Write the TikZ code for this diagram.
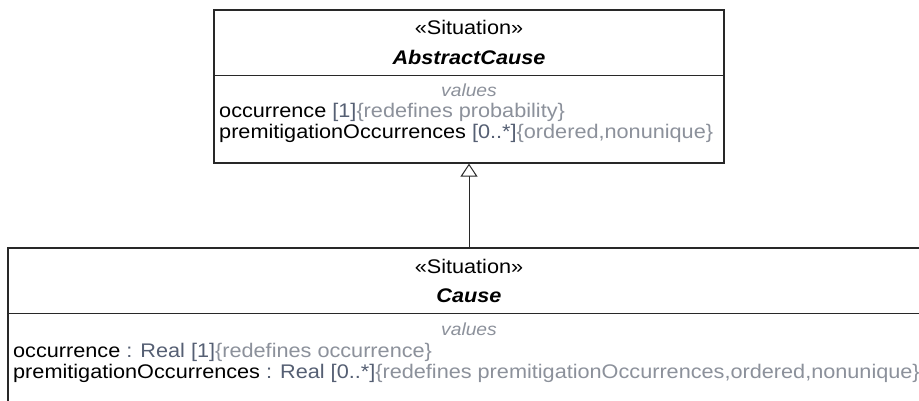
\documentclass[tikz,border=0pt]{standalone}
\usepackage{fontspec}
\setmainfont{Liberation Sans}[FakeStretch=1.1]
\usetikzlibrary{arrows.meta}

\definecolor{umlline}{RGB}{40,40,40}
\definecolor{typegray}{RGB}{85,95,115}
\definecolor{constrgray}{RGB}{140,145,155}

\tikzset{
  classbox/.style={draw=umlline, line width=1.3pt, fill=white, inner sep=0pt},
  classline/.style={draw=umlline, line width=1.3pt},
  txt/.style={inner sep=0pt, font=\fontsize{19.7}{20}\selectfont, text=black},
  classname/.style={txt, font=\fontsize{19.7}{20}\selectfont\bfseries\itshape},
  comptitle/.style={txt, text=constrgray, font=\fontsize{17.5}{18}\selectfont\itshape},
  generalization/.style={draw=umlline, line width=1pt,
    -{Triangle[open, length=13pt, width=17pt, fill=white]}}
}
\newcommand{\typ}[1]{\textcolor{typegray}{#1}}
\newcommand{\cons}[1]{\textcolor{constrgray}{#1}}

\begin{document}
\begin{tikzpicture}[x=1pt, y=-1pt]
  \useasboundingbox (0,0) rectangle (919,400);
  \clip (0,0) rectangle (919,400);

  % AbstractCause
  \node[classbox, minimum width=510pt, minimum height=153pt] (abstract) at (469,86.5) {};
  \draw[classline] ([yshift=-66pt]abstract.north west) -- ([yshift=-66pt]abstract.north east);
  \node[txt, anchor=base] (abstractst) at (469,34) {«Situation»};
  \node[classname, anchor=base] (abstractname) at (469,64) {AbstractCause};
  \node[comptitle, anchor=base] (abstractvals) at (469,96) {values};
  \node[txt, anchor=base west] (abstractocc) at (219,117)
    {occurrence \typ{[1]}\cons{\{redefines probability\}}};
  \node[txt, anchor=base west] (abstractpre) at (219,138)
    {premitigationOccurrences \typ{[0..*]}\cons{\{ordered,nonunique\}}};

  % Cause
  \node[classbox, minimum width=922pt, minimum height=182pt] (cause) at (469,339) {};
  \draw[classline] ([yshift=-66pt]cause.north west) -- ([yshift=-66pt]cause.north east);
  \node[txt, anchor=base] (causest) at (469,273) {«Situation»};
  \node[classname, anchor=base] (causename) at (469,302) {Cause};
  \node[comptitle, anchor=base] (causevals) at (469,335) {values};
  \node[txt, anchor=base west] (causeocc) at (13,357)
    {occurrence \typ{: Real [1]}\cons{\{redefines occurrence\}}};
  \node[txt, anchor=base west] (causepre) at (13,378)
    {premitigationOccurrences \typ{: Real [0..*]}\cons{\{redefines premitigationOccurrences,ordered,nonunique\}}};

  \draw[generalization] (cause.north) -- (abstract.south);
\end{tikzpicture}
\end{document}
